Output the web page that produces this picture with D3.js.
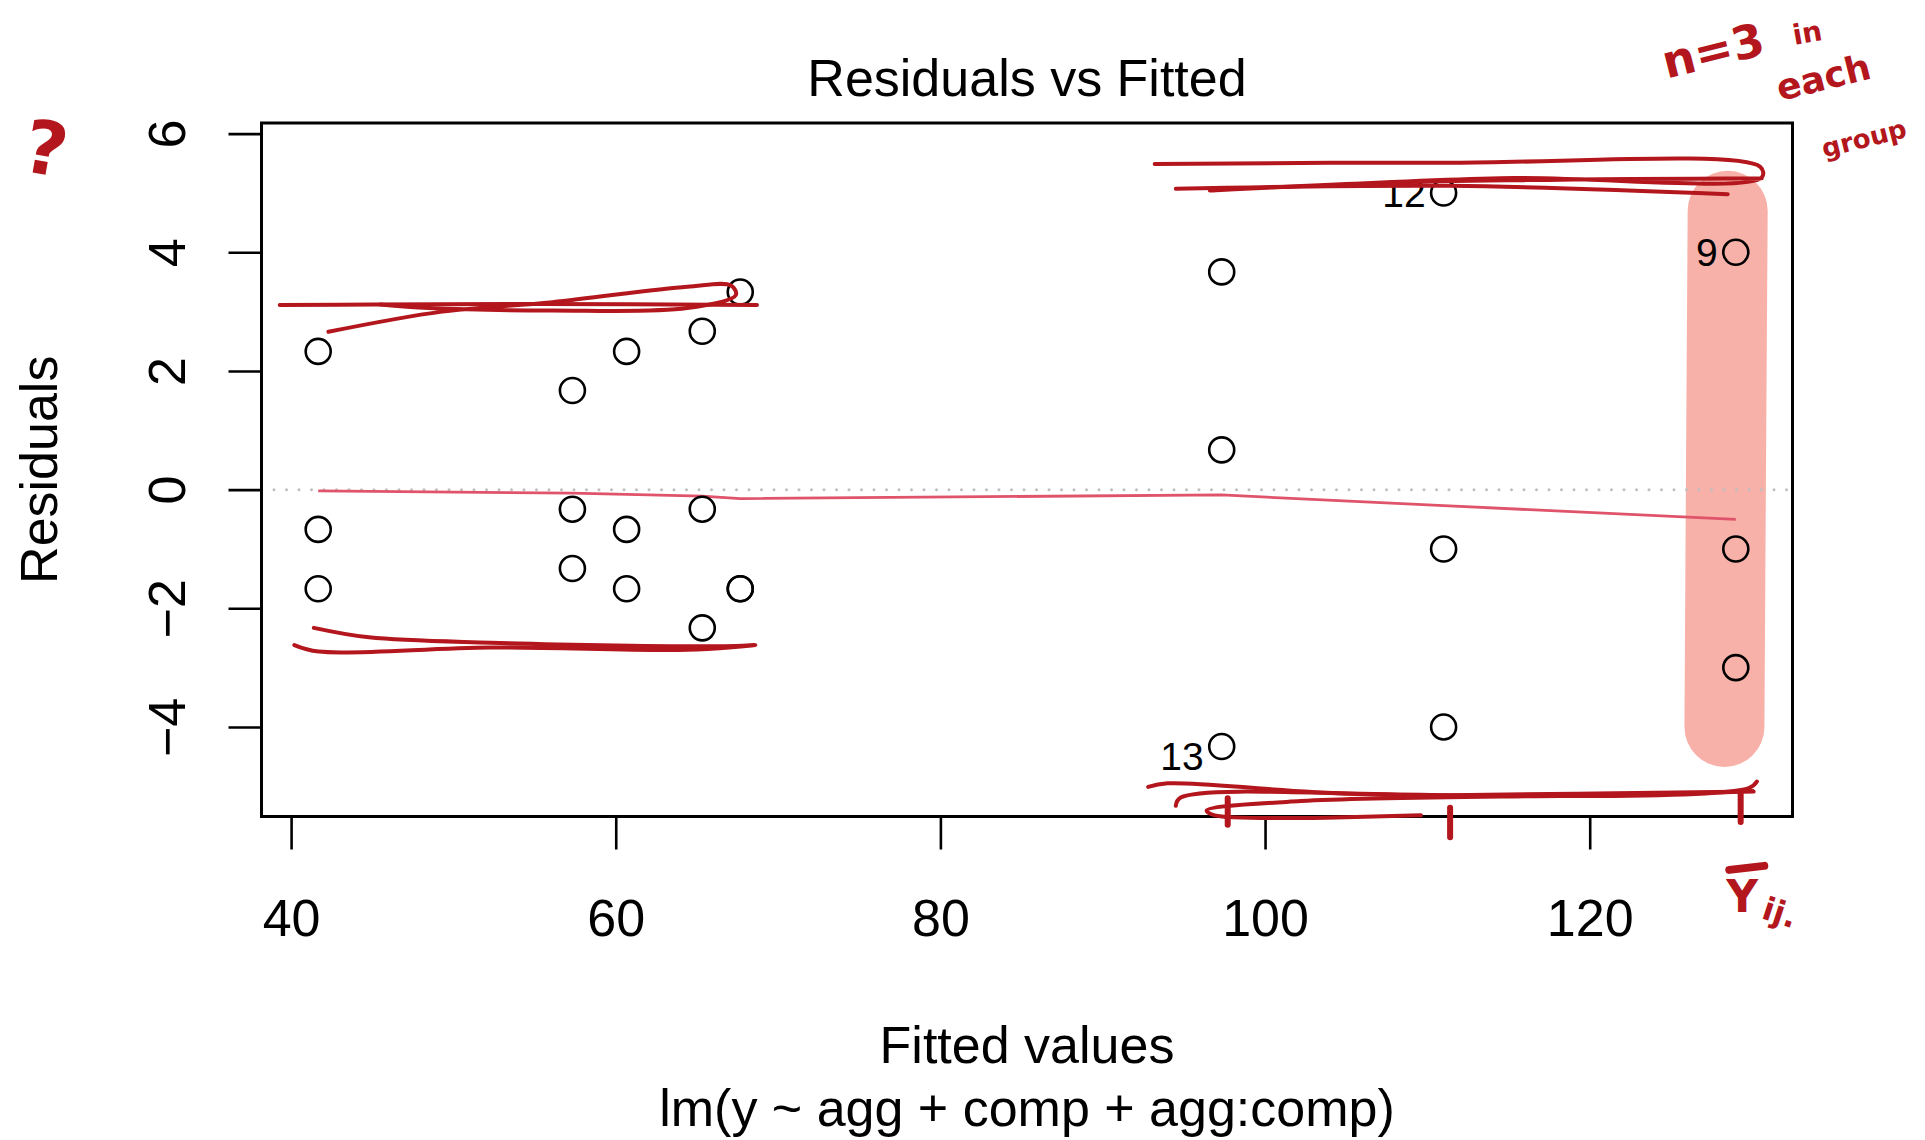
<!DOCTYPE html>
<html>
<head>
<meta charset="utf-8">
<script src="https://cdn.jsdelivr.net/npm/d3@7"></script>
<style>
  body { margin: 0; background: #fff; }
  svg text { font-family: "Liberation Sans", Arial, sans-serif; }
  .note { font-family: "DejaVu Sans", sans-serif; font-weight: bold; fill: #b3161c; }
</style>
</head>
<body>
<svg width="1925" height="1140"></svg>
<script>
// observations 1..24, in data order
const fitted = [41.67, 41.67, 41.67, 57.33, 57.33, 57.33, 129.0, 129.0, 129.0,
  111.0, 111.0, 111.0, 97.33, 97.33, 97.33, 60.67, 60.67, 60.67,
  65.33, 65.33, 65.33, 67.67, 67.67, 67.67];
const residuals = [2.33, -0.67, -1.67, 1.67, -0.33, -1.33, -1.0, -3.0, 4.0,
  -1.0, -4.0, 5.0, -4.33, 0.67, 3.67, 2.33, -0.67, -1.67,
  2.67, -0.33, -2.33, 3.33, -1.67, -1.67];

// lowess smoother, at the sorted group means
const smoothX = [41.67, 57.33, 60.67, 65.33, 67.67, 97.33, 111.0, 129.0];
const smoothY = [-0.02, -0.06, -0.08, -0.11, -0.15, -0.09, -0.27, -0.5];

const xTicks = [40, 60, 80, 100, 120];
const yTicks = [-4, -2, 0, 2, 4, 6];

const title = "Residuals vs Fitted";
const xLabel = "Fitted values";
const subTitle = "lm(y ~ agg + comp + agg:comp)";
const yLabel = "Residuals";

// hand-drawn notes, in data units (fitted, residual)
const highlight = [[128.5, 4.7], [128.4, 0.5], [128.3, -4.0]];
const scribbles = [
  [[39.3, 3.11], [45, 3.12], [55, 3.13], [68.7, 3.11]],
  [[42.3, 2.66], [49.3, 3.0], [56.1, 3.16], [64.4, 3.42], [67.1, 3.44], [67.4, 3.28], [64.4, 3.06], [56.1, 3.02], [48.5, 3.06], [45.5, 3.12]],
  [[41.4, -2.33], [44.8, -2.49], [52.3, -2.58], [66.7, -2.64], [68.6, -2.62], [64.4, -2.7], [52.3, -2.66], [41.7, -2.73], [40.2, -2.62]],
  [[93.2, 5.49], [111.4, 5.51], [130.5, 5.44], [130.6, 5.26], [114.5, 5.25], [96.6, 5.04], [108.3, 5.18], [130.6, 5.25]],
  [[94.5, 5.07], [111.4, 5.12], [128.5, 4.98]],
  [[92.8, -5.01], [94, -4.95], [105.2, -5.12], [129.8, -5.03], [130.3, -4.92]],
  [[94.5, -5.33], [94.8, -5.19], [111.4, -5.15], [130.1, -5.09], [120.6, -5.15], [102.2, -5.25], [96.4, -5.41], [96.9, -5.49], [109.6, -5.49]]
];
const markTicks = [[97.7, -5.2, -5.65], [111.4, -5.36, -5.86], [129.3, -5.14, -5.6]];
const notes = [
  { text: "?", x: 24.9, y: 5.75, size: 74, rot: 10 },
  { text: "n=3", x: 127.6, y: 7.4, size: 46, rot: -14 },
  { text: "in", x: 133.4, y: 7.7, size: 28, rot: -10 },
  { text: "each", x: 134.4, y: 6.95, size: 36, rot: -14 },
  { text: "group", x: 136.9, y: 5.92, size: 26, rot: -14 }
];

const svg = d3.select("svg"),
  plotLeft = 261.5,
  plotRight = 1792.5,
  plotTop = 123,
  plotBottom = 816.5;

// R style ranges: 4% padding, residuals first widened by 8%
function extend(ext, f) {
  const d = (ext[1] - ext[0]) * f;
  return [ext[0] - d, ext[1] + d];
}
const x = d3.scaleLinear().domain(extend(d3.extent(fitted), 0.04)).range([plotLeft, plotRight]);
const y = d3.scaleLinear().domain(extend(extend(d3.extent(residuals), 0.08), 0.04)).range([plotBottom, plotTop]);

const red = "#b3161c";

// salmon highlight under the data
svg.append("path")
  .attr("d", d3.line().x(d => x(d[0])).y(d => y(d[1])).curve(d3.curveCatmullRom)(highlight))
  .attr("fill", "none")
  .attr("stroke", "rgb(241,125,110)")
  .attr("stroke-opacity", 0.6)
  .attr("stroke-width", 80)
  .attr("stroke-linecap", "round");

// zero reference
svg.append("line")
  .attr("x1", plotLeft).attr("x2", plotRight)
  .attr("y1", y(0)).attr("y2", y(0))
  .attr("stroke", "#bebebe")
  .attr("stroke-width", 3)
  .attr("stroke-linecap", "round")
  .attr("stroke-dasharray", "0,12.5");

// smoother
svg.append("path")
  .attr("d", d3.line().x(d => x(d)).y((d, i) => y(smoothY[i]))(smoothX))
  .attr("fill", "none")
  .attr("stroke", "#DF536B")
  .attr("stroke-width", 2.8);

// points
svg.append("g")
  .selectAll("circle")
  .data(fitted)
  .enter()
  .append("circle")
  .attr("cx", d => x(d))
  .attr("cy", (d, i) => y(residuals[i]))
  .attr("r", 12.5)
  .attr("fill", "none")
  .attr("stroke", "black")
  .attr("stroke-width", 2.6);

// label the three largest residuals
const ids = d3.range(residuals.length)
  .sort((a, b) => Math.abs(residuals[b]) - Math.abs(residuals[a]))
  .slice(0, 3);
svg.append("g")
  .selectAll("text")
  .data(ids)
  .enter()
  .append("text")
  .attr("x", i => x(fitted[i]) - 18)
  .attr("y", i => y(residuals[i]) + (residuals[i] < 0 ? 10 : 0))
  .attr("dy", "0.35em")
  .attr("text-anchor", "end")
  .attr("font-size", 39)
  .text(i => i + 1);

// frame
svg.append("rect")
  .attr("x", plotLeft).attr("y", plotTop)
  .attr("width", plotRight - plotLeft).attr("height", plotBottom - plotTop)
  .attr("fill", "none")
  .attr("stroke", "black")
  .attr("stroke-width", 3);

// x axis
const xa = svg.append("g").attr("transform", "translate(0," + plotBottom + ")")
  .call(d3.axisBottom(x).tickValues(xTicks).tickSize(33).tickPadding(50));
xa.select(".domain").attr("stroke-width", 3).attr("d", "M" + x(xTicks[0]) + ",0H" + x(xTicks[xTicks.length - 1]));
xa.selectAll(".tick line").attr("stroke-width", 2.6);
xa.selectAll(".tick text").attr("font-size", 52).attr("fill", "black")
  .attr("font-family", "Liberation Sans, Arial, sans-serif").attr("dy", "0.71em");

// y axis, labels turned like R
const ya = svg.append("g").attr("transform", "translate(" + plotLeft + ",0)")
  .call(d3.axisLeft(y).tickValues(yTicks).tickSize(33).tickFormat(d => d < 0 ? "\u2212" + Math.abs(d) : d));
ya.select(".domain").attr("stroke-width", 3).attr("d", "M0," + y(yTicks[0]) + "V" + y(yTicks[yTicks.length - 1]));
ya.selectAll(".tick line").attr("stroke-width", 2.6);
ya.selectAll(".tick text")
  .attr("font-size", 52).attr("fill", "black")
  .attr("font-family", "Liberation Sans, Arial, sans-serif")
  .attr("x", null).attr("dy", null)
  .attr("text-anchor", "middle")
  .attr("transform", "translate(-76.5,0) rotate(-90)");

// titles
svg.append("text")
  .attr("x", (plotLeft + plotRight) / 2).attr("y", 96)
  .attr("text-anchor", "middle").attr("font-size", 52)
  .text(title);
svg.append("text")
  .attr("x", (plotLeft + plotRight) / 2).attr("y", 1063)
  .attr("text-anchor", "middle").attr("font-size", 52)
  .text(xLabel);
svg.append("text")
  .attr("x", (plotLeft + plotRight) / 2).attr("y", 1126)
  .attr("text-anchor", "middle").attr("font-size", 52)
  .text(subTitle);
svg.append("text")
  .attr("transform", "translate(56.5," + (plotTop + plotBottom) / 2 + ") rotate(-90)")
  .attr("text-anchor", "middle").attr("font-size", 52)
  .text(yLabel);

// hand annotations on top
const pen = d3.line().x(d => x(d[0])).y(d => y(d[1])).curve(d3.curveCatmullRom);
svg.append("g")
  .selectAll("path")
  .data(scribbles)
  .enter()
  .append("path")
  .attr("d", pen)
  .attr("fill", "none")
  .attr("stroke", red)
  .attr("stroke-width", 4)
  .attr("stroke-linecap", "round")
  .attr("stroke-linejoin", "round");

svg.append("g")
  .selectAll("line")
  .data(markTicks)
  .enter()
  .append("line")
  .attr("x1", d => x(d[0])).attr("x2", d => x(d[0]))
  .attr("y1", d => y(d[1])).attr("y2", d => y(d[2]))
  .attr("stroke", red)
  .attr("stroke-width", 6)
  .attr("stroke-linecap", "round");

svg.append("g")
  .selectAll("text")
  .data(notes)
  .enter()
  .append("text")
  .attr("class", "note")
  .attr("text-anchor", "middle")
  .attr("dy", "0.35em")
  .attr("font-size", d => d.size)
  .attr("transform", d => "translate(" + x(d.x) + "," + y(d.y) + ") rotate(" + d.rot + ")")
  .text(d => d.text);

// Y-bar i j dot under the last group
const yb = svg.append("g")
  .attr("transform", "translate(" + x(129.4) + "," + y(-6.78) + ")");
yb.append("line")
  .attr("x1", -13).attr("x2", 22).attr("y1", -22).attr("y2", -26)
  .attr("stroke", red).attr("stroke-width", 8).attr("stroke-linecap", "round");
yb.append("text")
  .attr("class", "note").attr("text-anchor", "middle")
  .attr("y", 20).attr("font-size", 44)
  .text("Y");
yb.append("text")
  .attr("class", "note").attr("text-anchor", "start")
  .attr("transform", "translate(18,26) rotate(18)")
  .attr("font-size", 32)
  .text("ij.");
</script>
</body>
</html>
